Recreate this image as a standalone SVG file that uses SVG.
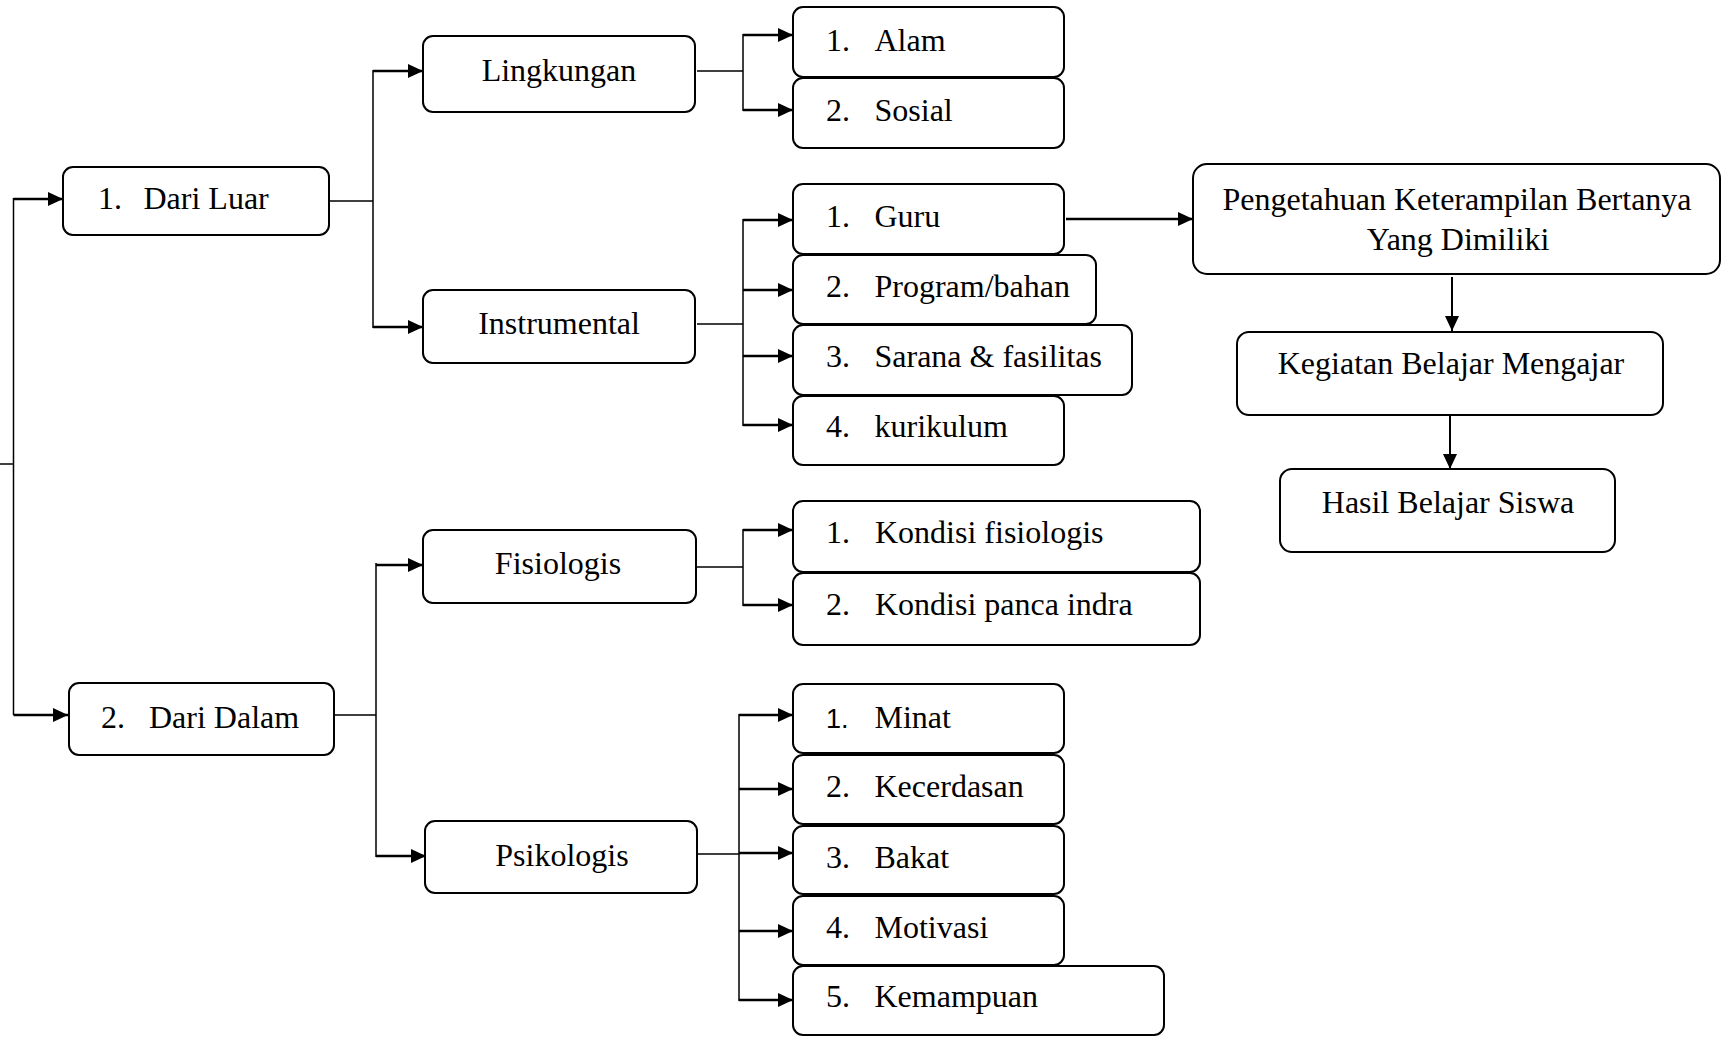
<svg xmlns="http://www.w3.org/2000/svg" width="1725" height="1037" viewBox="0 0 1725 1037">
<style>
.box{fill:#fff;stroke:#000;stroke-width:2}
.t{font-family:"Liberation Serif","Times New Roman",serif;font-size:32px;fill:#000}
.c{text-anchor:middle}
.ln{fill:none;stroke:#000;stroke-width:1.5}
.ar{fill:none;stroke:#000;stroke-width:2.7;marker-end:url(#ah)}
.ars{fill:none;stroke:#000;stroke-width:2;marker-end:url(#ah)}
</style>
<defs>
<marker id="ah" markerUnits="userSpaceOnUse" markerWidth="16" markerHeight="15" refX="15" refY="7" orient="auto">
<path d="M0,0 L15,7 L0,14 z" fill="#000"/>
</marker>
</defs>
<rect width="1725" height="1037" fill="#fff"/>
<g id="connectors">
<path class="ln" d="M0,464 H13.5"/>
<path class="ln" d="M13.5,198 V715"/>
<path class="ar" d="M13.5,199 H63"/>
<path class="ar" d="M13.5,715 H68"/>
<path class="ln" d="M329,201 H373 M373,70 V328"/>
<path class="ar" d="M373,71 H423"/>
<path class="ar" d="M373,327 H423"/>
<path class="ln" d="M697,71 H743 M743,34 V111"/>
<path class="ar" d="M743,35 H793"/>
<path class="ar" d="M743,110 H793"/>
<path class="ln" d="M697,324 H743 M743,219 V426"/>
<path class="ar" d="M743,220 H793"/>
<path class="ar" d="M743,290 H793"/>
<path class="ar" d="M743,356 H793"/>
<path class="ar" d="M743,425 H793"/>
<path class="ar" d="M1066,219 H1193"/>
<path class="ars" d="M1452,277 V331"/>
<path class="ars" d="M1450,415 V469"/>
<path class="ln" d="M335,715 H376 M376,563 V857"/>
<path class="ar" d="M376,565 H423"/>
<path class="ar" d="M376,856 H426"/>
<path class="ln" d="M697,567 H743 M743,529 V606"/>
<path class="ar" d="M743,530 H793"/>
<path class="ar" d="M743,605 H793"/>
<path class="ln" d="M698,854 H739 M739,714 V1001"/>
<path class="ar" d="M739,715 H793"/>
<path class="ar" d="M739,789 H793"/>
<path class="ar" d="M739,853 H793"/>
<path class="ar" d="M739,931 H793"/>
<path class="ar" d="M739,1000 H793"/>
</g>
<g id="dari-luar"><rect class="box" x="63" y="167" width="266" height="68" rx="10"/><text class="t" x="98" y="209">1.</text><text class="t" x="143.5" y="209">Dari Luar</text></g>
<g id="dari-dalam"><rect class="box" x="69" y="683" width="265" height="72" rx="10"/><text class="t" x="101" y="728">2.</text><text class="t" x="149" y="728">Dari Dalam</text></g>
<g id="lingkungan"><rect class="box" x="423" y="36" width="272" height="76" rx="10"/><text class="t c" x="559" y="81">Lingkungan</text></g>
<g id="instrumental"><rect class="box" x="423" y="290" width="272" height="73" rx="10"/><text class="t c" x="559" y="334">Instrumental</text></g>
<g id="fisiologis"><rect class="box" x="423" y="530" width="273" height="73" rx="10"/><text class="t c" x="558" y="574">Fisiologis</text></g>
<g id="psikologis"><rect class="box" x="425" y="821" width="272" height="72" rx="10"/><text class="t c" x="562" y="866">Psikologis</text></g>
<g id="alam"><rect class="box" x="793" y="7" width="271" height="70" rx="10"/><text class="t" x="826" y="51">1.</text><text class="t" x="874.5" y="51">Alam</text></g>
<g id="sosial"><rect class="box" x="793" y="78" width="271" height="70" rx="10"/><text class="t" x="826" y="121">2.</text><text class="t" x="874.5" y="121">Sosial</text></g>
<g id="guru"><rect class="box" x="793" y="184" width="271" height="70" rx="10"/><text class="t" x="826" y="227">1.</text><text class="t" x="874.5" y="227">Guru</text></g>
<g id="program"><rect class="box" x="793" y="255" width="303" height="69" rx="10"/><text class="t" x="826" y="297">2.</text><text class="t" x="874.5" y="297">Program/bahan</text></g>
<g id="sarana"><rect class="box" x="793" y="325" width="339" height="70" rx="10"/><text class="t" x="826" y="367">3.</text><text class="t" x="874.5" y="367">Sarana &amp; fasilitas</text></g>
<g id="kurikulum"><rect class="box" x="793" y="396" width="271" height="69" rx="10"/><text class="t" x="826" y="437">4.</text><text class="t" x="874.5" y="437">kurikulum</text></g>
<g id="kondisi-fisiologis"><rect class="box" x="793" y="501" width="407" height="71" rx="10"/><text class="t" x="826" y="543">1.</text><text class="t" x="875" y="543">Kondisi fisiologis</text></g>
<g id="kondisi-panca-indra"><rect class="box" x="793" y="573" width="407" height="72" rx="10"/><text class="t" x="826" y="615">2.</text><text class="t" x="875" y="615">Kondisi panca indra</text></g>
<g id="minat"><rect class="box" x="793" y="684" width="271" height="69" rx="10"/><text class="t" x="826" y="728" style="font-family:'Liberation Sans',Arial,sans-serif;font-size:27px">1.</text><text class="t" x="874.5" y="728">Minat</text></g>
<g id="kecerdasan"><rect class="box" x="793" y="755" width="271" height="69" rx="10"/><text class="t" x="826" y="797">2.</text><text class="t" x="874.5" y="797">Kecerdasan</text></g>
<g id="bakat"><rect class="box" x="793" y="826" width="271" height="68" rx="10"/><text class="t" x="826" y="868">3.</text><text class="t" x="874.5" y="868">Bakat</text></g>
<g id="motivasi"><rect class="box" x="793" y="896" width="271" height="69" rx="10"/><text class="t" x="826" y="938">4.</text><text class="t" x="874.5" y="938">Motivasi</text></g>
<g id="kemampuan"><rect class="box" x="793" y="966" width="371" height="69" rx="10"/><text class="t" x="826" y="1007">5.</text><text class="t" x="874.5" y="1007">Kemampuan</text></g>
<g id="pengetahuan"><rect class="box" x="1193" y="164" width="527" height="110" rx="14"/><text class="t c" x="1457" y="210">Pengetahuan Keterampilan Bertanya</text><text class="t c" x="1458" y="250">Yang Dimiliki</text></g>
<g id="kegiatan"><rect class="box" x="1237" y="332" width="426" height="83" rx="12"/><text class="t c" x="1451" y="374">Kegiatan Belajar Mengajar</text></g>
<g id="hasil"><rect class="box" x="1280" y="469" width="335" height="83" rx="12"/><text class="t c" x="1448" y="513">Hasil Belajar Siswa</text></g>
</svg>
